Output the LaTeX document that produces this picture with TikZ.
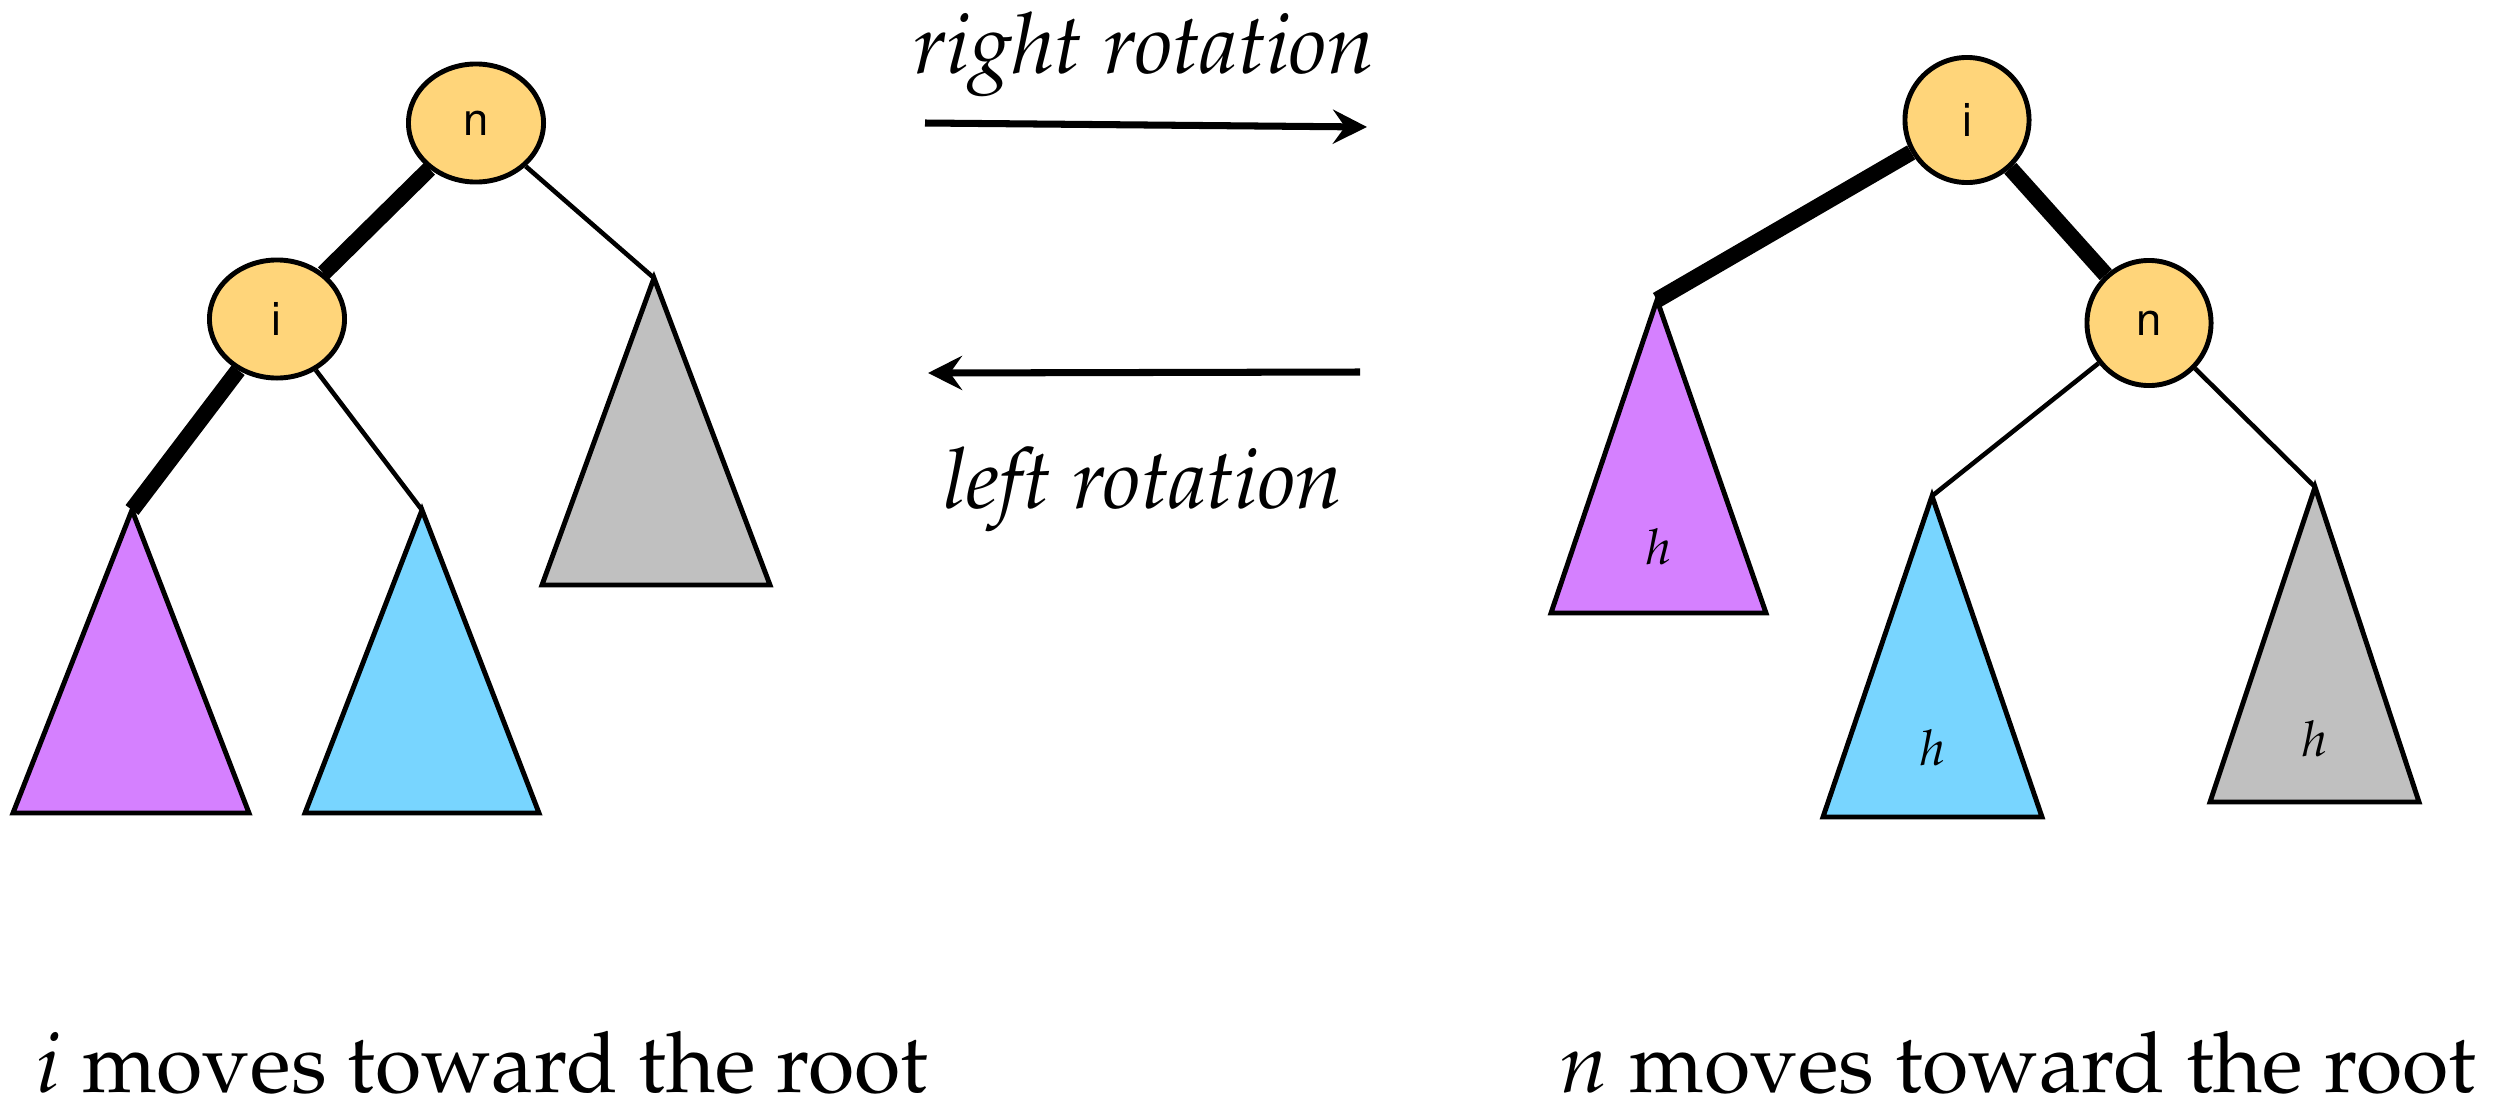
\documentclass[tikz,border=0pt]{standalone}
\usepackage[T1]{fontenc}
\usepackage{mathpazo}
\usepackage[scaled=0.92]{helvet}
\usepackage{xcolor}
\usetikzlibrary{arrows.meta, positioning, shapes.geometric}
\definecolor{nodeYellow}{RGB}{255,213,122}
\definecolor{treePurple}{RGB}{213,128,255}
\definecolor{treeBlue}{RGB}{120,213,255}
\definecolor{treeGray}{RGB}{192,192,192}
\tikzset{
    treenode/.style={
        ellipse,
        draw=black,
        line width=1.4pt,
        fill=nodeYellow,
        inner sep=0pt,
        minimum width=1.35cm,
        minimum height=1.18cm,
        font=\fontsize{14}{16}\selectfont\sffamily
    },
    roundnode/.style={
        treenode,
        minimum width=1.24cm,
        minimum height=1.25cm
    },
    subtree/.style={draw=black, line width=1.4pt, line join=miter},
    heavyedge/.style={draw=black, line width=4.6pt},
    lightedge/.style={draw=black, line width=1.3pt},
    rotarrow/.style={-{Stealth[length=3.4mm, width=3.4mm, inset=1.2mm]}, line width=2pt},
    rotlabel/.style={anchor=base, inner sep=0pt, font=\fontsize{24}{28}\selectfont\itshape},
    caption/.style={anchor=base west, inner sep=0pt, font=\fontsize{24}{28}\selectfont},
    hlabel/.style={inner sep=0pt, font=\fontsize{14}{16}\selectfont}
}

\begin{document}
\begin{tikzpicture}[x=0.01cm, y=-0.01cm]
        \useasboundingbox (0,0) rectangle (2515,1115);
        % left tree
        \node[treenode] (lroot) at (476,123) {n};
        \node[treenode] (lchild) at (277,319) {i};
        \coordinate (lpurple) at (132,510);
        \coordinate (lblue) at (422,510);
        \coordinate (lgray) at (654,278);
        \draw[heavyedge] (lroot) -- (lchild);
        \draw[heavyedge] (lchild) -- (lpurple);
        \draw[lightedge] (lchild) -- (lblue);
        \draw[lightedge] (lroot) -- (lgray);
        \draw[subtree, fill=treePurple] (lpurple) -- (249,813) -- (13,813) -- cycle;
        \draw[subtree, fill=treeBlue] (lblue) -- (539,813) -- (305,813) -- cycle;
        \draw[subtree, fill=treeGray] (lgray) -- (770,585) -- (542,585) -- cycle;
        % right tree
        \node[roundnode] (rroot) at (1967,120) {i};
        \node[roundnode] (rchild) at (2149,323) {n};
        \coordinate (rpurple) at (1657,300);
        \coordinate (rblue) at (1932,496);
        \coordinate (rgray) at (2315,487);
        \draw[heavyedge] (rroot) -- (rpurple);
        \draw[heavyedge] (rroot) -- (rchild);
        \draw[lightedge] (rchild) -- (rblue);
        \draw[lightedge] (rchild) -- (rgray);
        \draw[subtree, fill=treePurple] (rpurple) -- (1766,613) -- (1551,613) -- cycle;
        \draw[subtree, fill=treeBlue] (rblue) -- (2042,817) -- (1823,817) -- cycle;
        \draw[subtree, fill=treeGray] (rgray) -- (2419,802) -- (2210,802) -- cycle;
        \node[hlabel] (hpurple) at (1659,547) {$h$};
        \node[hlabel] (hblue) at (1933,748) {$h$};
        \node[hlabel] (hgray) at (2315,739) {$h$};
        % rotations
        \coordinate (rightfrom) at (925,123);
        \coordinate (rightto) at (1367,127);
        \coordinate (leftfrom) at (1360,372);
        \coordinate (leftto) at (928,373);
        \draw[rotarrow] (rightfrom) -- (rightto);
        \draw[rotarrow] (leftfrom) -- (leftto);
        \node[rotlabel] (rightlbl) at (1144,73) {right rotation};
        \node[rotlabel] (leftlbl) at (1143,508) {left rotation};
        % captions
        \node[caption] (lcaption) at (35,1092) {$i$ moves toward the root};
        \node[caption] (rcaption) at (1559,1092) {$n$ moves toward the root};
    \end{tikzpicture}
\end{document}
